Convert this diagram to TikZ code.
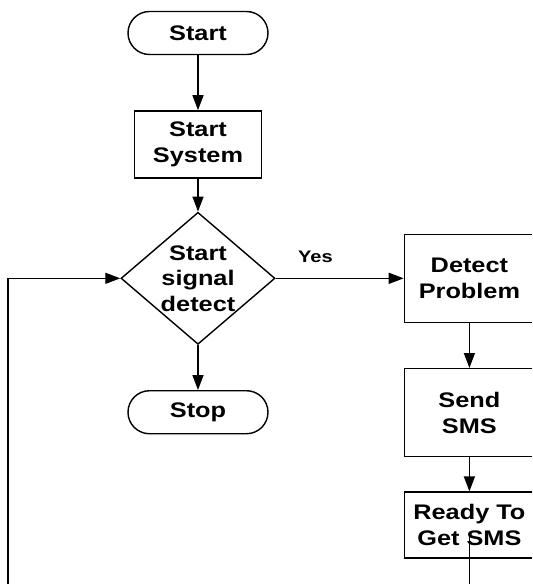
\documentclass[tikz,border=0pt]{standalone}
\usepackage{fontspec}
\setmainfont{Liberation Sans}[FakeStretch=1.2]
\usepackage{tikz}
\usetikzlibrary{shapes.geometric, positioning, arrows.meta, calc}

\begin{document}
\begin{tikzpicture}[
        font=\bfseries\fontsize{12}{14.5}\selectfont,
        % Estilo para inicio / fin
        terminal/.style={
            draw=black,
            line width=0.8pt,
            rectangle,
            rounded corners=0.43cm,
            minimum width=2.8cm,
            minimum height=0.86cm
        },
        % Estilo para los procesos
        process/.style={
            draw=black,
            line width=0.8pt,
            rectangle,
            minimum width=2.55cm,
            minimum height=1.34cm,
            align=center
        },
        % Estilo para la decision
        decision/.style={
            draw=black,
            line width=0.8pt,
            diamond,
            inner sep=0pt,
            minimum width=3.08cm,
            minimum height=2.64cm
        },
        % Estilo para flechas
        arrow/.style={-{Triangle[length=3mm, width=2.2mm]}, line width=0.8pt, color=black}
    ]

        % Marco del dibujo
        \clip (-3.96,0.66) rectangle (6.68,-11.02);

        % 1. Columna principal
        \node[terminal] (start) {Start};
        \node[process, below=1.1cm of start] (sys) {Start\\System};
        \node[decision, below=0.66cm of sys] (dec) {};
        \node[align=center] (dectext) at (dec) {Start\\signal\\detect};
        \node[terminal, below=0.9cm of dec] (stop) {Stop};

        % 2. Columna derecha
        \node[process, right=2.56cm of dec, minimum width=2.6cm, minimum height=1.76cm] (detect) {Detect\\Problem};
        \node[process, below=0.9cm of detect, minimum width=2.6cm, minimum height=1.76cm] (sms) {Send\\SMS};
        \node[process, below=0.68cm of sms, minimum width=2.6cm, minimum height=1.32cm] (ready) {Ready To\\Get SMS};

        % Puntos para el lazo de retorno
        \coordinate[below=1cm of ready.south] (back);
        \coordinate (rail) at (-3.8,0);

        % Flechas
        \draw[arrow] (start) -- (sys);
        \draw[arrow] (sys) -- (dec);
        \draw[arrow] (dec) -- (stop);
        \draw[arrow] (dec) -- node[pos=0.31, above=5pt, font=\bfseries\fontsize{9.5}{11}\selectfont] (yes) {Yes} (detect);
        \draw[arrow] (detect) -- (sms);
        \draw[arrow] (sms) -- (ready);

        % Lazo de retorno a la decision
        \draw[arrow] ([yshift=-0.15cm]ready.center) -- (back) -- (back -| rail) |- (dec.west);

    \end{tikzpicture}
\end{document}
